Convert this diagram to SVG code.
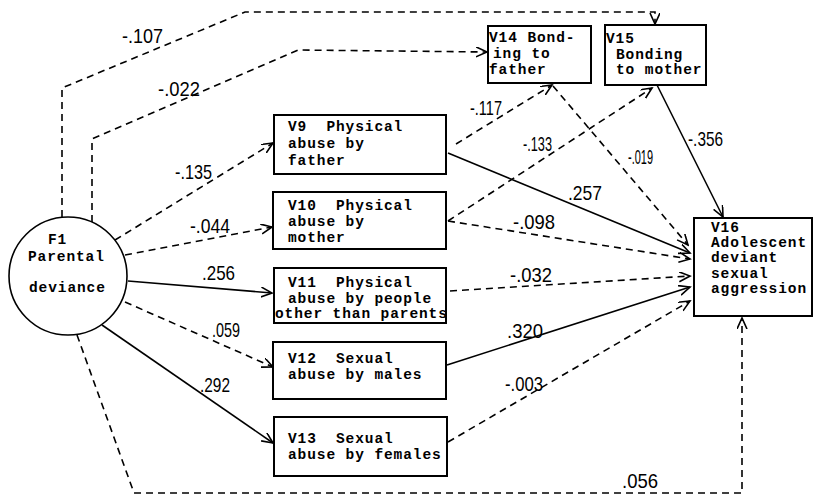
<svg xmlns="http://www.w3.org/2000/svg" width="815" height="496" viewBox="0 0 815 496">
<style>
.box{fill:#fff;stroke:#000;stroke-width:2}
.t{font-family:"Liberation Mono","DejaVu Sans Mono",monospace;font-weight:bold;font-size:14.5px;letter-spacing:0.9px;white-space:pre;fill:#000}
.c{fill:none;stroke:#000;stroke-width:1.6;marker-end:url(#ah)}
.d{stroke-dasharray:7 5}
.lb{font-family:"Liberation Sans","DejaVu Sans",sans-serif;font-size:21px;fill:#000}
</style>
<defs>
<marker id="ah" markerUnits="userSpaceOnUse" markerWidth="13" markerHeight="11" refX="11" refY="5" orient="auto">
<path d="M0,0 L11,5 L0,10" fill="none" stroke="#000" stroke-width="1.6"/>
</marker>
</defs>
<rect width="815" height="496" fill="#fff"/>
<g id="connectors">
<path class="c d" d="M62,217 L62,88 L245,12 L655,12 L655,24"/>
<path class="c d" d="M92,222 L92,139 L298,50 L487,52"/>
<path class="c d" d="M115,240 L273,143"/>
<path class="c d" d="M125,255 L272,227"/>
<path class="c" d="M128,281 L272,293"/>
<path class="c d" d="M125,302 L273,367"/>
<path class="c" d="M102,325 L273,443"/>
<path class="c d" d="M77,335 L134,493 L742,493 L742,318"/>
<path class="c d" d="M456,144 L552,85"/>
<path class="c d" d="M553,86 L688,245"/>
<path class="c d" d="M448,221 L652,88"/>
<path class="c" d="M657,85 L723,217"/>
<path class="c" d="M448,153 L690,253"/>
<path class="c d" d="M448,221 L690,259"/>
<path class="c d" d="M450,291 L690,276"/>
<path class="c" d="M447,365 L690,287"/>
<path class="c d" d="M448,442 L690,301"/>
</g>
<g id="labels">
<text class="lb" x="122" y="43" textLength="41" lengthAdjust="spacingAndGlyphs">-.107</text>
<text class="lb" x="158" y="96" textLength="42" lengthAdjust="spacingAndGlyphs">-.022</text>
<text class="lb" x="175" y="179" textLength="37" lengthAdjust="spacingAndGlyphs">-.135</text>
<text class="lb" x="190" y="233" textLength="40" lengthAdjust="spacingAndGlyphs">-.044</text>
<text class="lb" x="202" y="280" textLength="33" lengthAdjust="spacingAndGlyphs">.256</text>
<text class="lb" x="212" y="337" textLength="28" lengthAdjust="spacingAndGlyphs">.059</text>
<text class="lb" x="200" y="392" textLength="30" lengthAdjust="spacingAndGlyphs">.292</text>
<text class="lb" x="470" y="115" textLength="32" lengthAdjust="spacingAndGlyphs">-.117</text>
<text class="lb" x="523" y="151" textLength="29" lengthAdjust="spacingAndGlyphs">-.133</text>
<text class="lb" x="628" y="164" textLength="25" lengthAdjust="spacingAndGlyphs">-.019</text>
<text class="lb" x="688" y="146" textLength="35" lengthAdjust="spacingAndGlyphs">-.356</text>
<text class="lb" x="568" y="200" textLength="34" lengthAdjust="spacingAndGlyphs">.257</text>
<text class="lb" x="513" y="229" textLength="42" lengthAdjust="spacingAndGlyphs">-.098</text>
<text class="lb" x="510" y="282" textLength="42" lengthAdjust="spacingAndGlyphs">-.032</text>
<text class="lb" x="507" y="338" textLength="36" lengthAdjust="spacingAndGlyphs">.320</text>
<text class="lb" x="505" y="391" textLength="38" lengthAdjust="spacingAndGlyphs">-.003</text>
<text class="lb" x="622" y="488" textLength="36" lengthAdjust="spacingAndGlyphs">.056</text>
</g>
<g id="F1">
<circle cx="68" cy="276" r="59" fill="#fff" stroke="#000" stroke-width="1.6"/>
<text class="t" x="48" y="244">F1</text>
<text class="t" x="28" y="261">Parental</text>
<text class="t" x="29" y="292">deviance</text>
</g>
<g id="V9">
<rect class="box" x="274" y="115" width="172" height="59"/>
<text class="t" x="288" y="131">V9  Physical</text>
<text class="t" x="288" y="148">abuse by</text>
<text class="t" x="288" y="165">father</text>
</g>
<g id="V10">
<rect class="box" x="273" y="192" width="173" height="57"/>
<text class="t" x="288" y="210">V10  Physical</text>
<text class="t" x="288" y="226">abuse by</text>
<text class="t" x="288" y="242">mother</text>
</g>
<g id="V11">
<rect class="box" x="274" y="268" width="172" height="55"/>
<text class="t" x="288" y="287">V11  Physical</text>
<text class="t" x="288" y="303">abuse by people</text>
<text class="t" x="275" y="318">other than parents</text>
</g>
<g id="V12">
<rect class="box" x="273" y="342" width="173" height="57"/>
<text class="t" x="288" y="363">V12  Sexual</text>
<text class="t" x="288" y="379">abuse by males</text>
</g>
<g id="V13">
<rect class="box" x="274" y="417" width="173" height="59"/>
<text class="t" x="288" y="443">V13  Sexual</text>
<text class="t" x="288" y="459">abuse by females</text>
</g>
<g id="V14">
<rect class="box" x="488" y="26" width="103" height="57"/>
<text class="t" x="489" y="42">V14 Bond-</text>
<text class="t" x="493" y="58">ing to</text>
<text class="t" x="489" y="74">father</text>
</g>
<g id="V15">
<rect class="box" x="605" y="25" width="101" height="60"/>
<text class="t" x="606" y="43">V15</text>
<text class="t" x="616" y="59">Bonding</text>
<text class="t" x="616" y="74">to mother</text>
</g>
<g id="V16">
<rect class="box" x="694" y="218" width="118" height="98"/>
<text class="t" x="711" y="232">V16</text>
<text class="t" x="711" y="247">Adolescent</text>
<text class="t" x="711" y="262">deviant</text>
<text class="t" x="711" y="278">sexual</text>
<text class="t" x="711" y="293">aggression</text>
</g>
</svg>
